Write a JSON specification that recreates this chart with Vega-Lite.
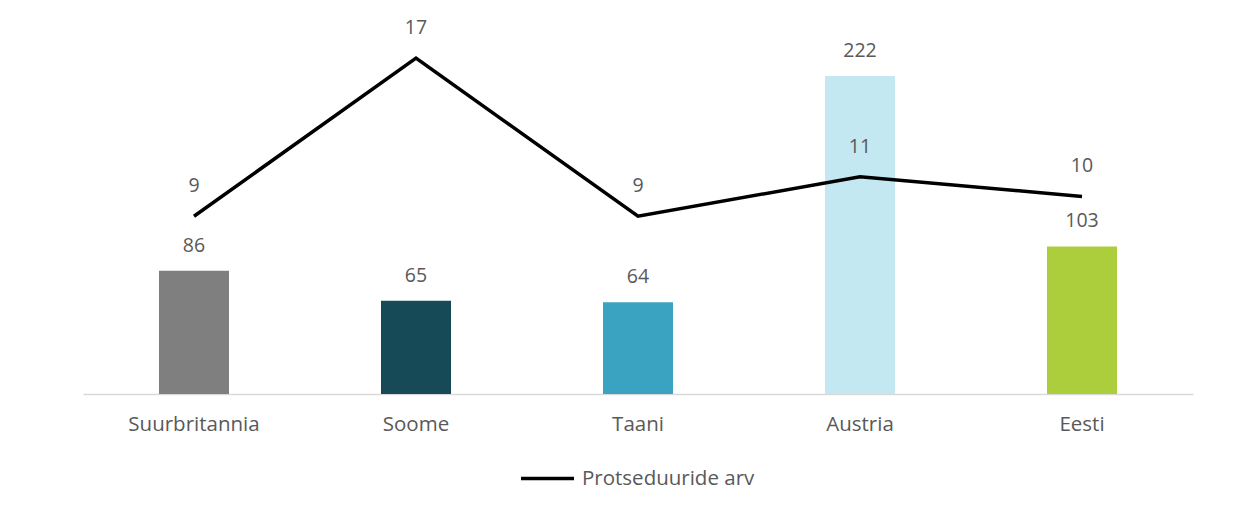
{
  "$schema": "https://vega.github.io/schema/vega-lite/v6.json",
  "width": 1110,
  "height": 384,
  "autosize": "none",
  "padding": {"left": 83, "top": 10, "right": 62, "bottom": 114},
  "background": "white",
  "config": {"view": {"stroke": null}, "font": "Open Sans"},
  "data": {
    "values": [
      {"land": "Suurbritannia", "vaartus": 86, "arv": 9},
      {"land": "Soome", "vaartus": 65, "arv": 17},
      {"land": "Taani", "vaartus": 64, "arv": 9},
      {"land": "Austria", "vaartus": 222, "arv": 11},
      {"land": "Eesti", "vaartus": 103, "arv": 10}
    ]
  },
  "encoding": {
    "x": {
      "field": "land",
      "type": "nominal",
      "sort": null,
      "scale": {"paddingInner": 0, "paddingOuter": 0},
      "axis": {
        "title": null,
        "labelAngle": 0,
        "domainColor": "#d9d9d9",
        "domainWidth": 1.5,
        "ticks": false,
        "labelFontSize": 20.5,
        "labelColor": "#595959",
        "labelFont": "Open Sans",
        "labelPadding": 20
      }
    }
  },
  "layer": [
    {
      "mark": {"type": "bar", "size": 70},
      "encoding": {
        "y": {"field": "vaartus", "type": "quantitative", "scale": {"domain": [0, 268]}, "axis": null},
        "fill": {
          "field": "land",
          "type": "nominal",
          "sort": null,
          "scale": {
            "domain": ["Suurbritannia", "Soome", "Taani", "Austria", "Eesti"],
            "range": ["#7f7f7f", "#174a57", "#3ba3c2", "#c4e8f2", "#acce3c"]
          },
          "legend": null
        }
      }
    },
    {
      "mark": {"type": "text", "dy": -25, "fontSize": 19.5, "color": "#595959", "baseline": "middle"},
      "encoding": {
        "y": {"field": "vaartus", "type": "quantitative", "scale": {"domain": [0, 268]}, "axis": null},
        "text": {"field": "vaartus", "type": "quantitative"}
      }
    },
    {
      "mark": {"type": "line", "strokeWidth": 3.5},
      "encoding": {
        "y": {"field": "arv", "type": "quantitative", "scale": {"domain": [0, 19.44]}, "axis": null},
        "stroke": {
          "datum": "Protseduuride arv",
          "scale": {"range": ["#000000"]},
          "legend": {
            "title": null,
            "orient": "none",
            "legendX": 436,
            "legendY": 440,
            "symbolType": "stroke",
            "symbolSize": 2809,
            "symbolStrokeWidth": 3.5,
            "labelFontSize": 20.5,
            "labelColor": "#595959",
            "labelFont": "Open Sans",
            "labelOffset": 6,
            "labelLimit": 400
          }
        }
      }
    },
    {
      "mark": {"type": "text", "dy": -30, "fontSize": 19.5, "color": "#595959", "baseline": "middle"},
      "encoding": {
        "y": {"field": "arv", "type": "quantitative", "scale": {"domain": [0, 19.44]}, "axis": null},
        "text": {"field": "arv", "type": "quantitative"}
      }
    }
  ],
  "resolve": {"scale": {"y": "independent"}}
}
